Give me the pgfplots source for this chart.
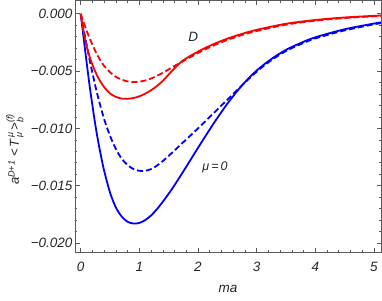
\documentclass[border=0pt]{standalone}
\usepackage{pgfplots}
\pgfplotsset{compat=1.18}
\usepackage{amsmath}
\usepackage{fontspec}
\setmainfont{Liberation Sans}
\definecolor{frame}{RGB}{90,90,90}
\newcommand{\ti}[1]{\text{\itshape #1}}
\begin{document}
\begin{tikzpicture}
\begin{axis}[
  scale only axis,
  width=306pt, height=252pt,
  xmin=-0.097, xmax=5.12,
  ymin=-0.02083, ymax=0.00116,
  axis line style={frame, line width=0.8pt},
  tick style={frame, line width=0.6pt},
  tick align=inside,
  major tick length=4.5pt,
  minor tick length=2.5pt,
  xtick={0,1,2,3,4,5},
  xticklabels={0,1,2,3,4,5},
  minor x tick num=4,
  ytick={-0.02,-0.015,-0.01,-0.005,0},
  yticklabels={−0.020,−0.015,−0.010,−0.005,0.000},
  minor y tick num=4,
  scaled y ticks=false,
  ticklabel style={font=\fontsize{13.5}{15}\selectfont\itshape, text=black!85},
  xticklabel style={yshift=-6pt},
  yticklabel style={xshift=1pt},
  xlabel={\itshape ma},
  xlabel style={font=\fontsize{13.5}{15}\selectfont, at={(axis description cs:0.5,-0.143)}, anchor=center, text=black!85},
  ylabel={$\ti{a}^{\ti{D+1}}\;\ti{<}\,\ti{T}^{\,\ti{μ}}_{\,\ti{μ}}\,\ti{>}^{\ti{(f)}}_{\ti{b}}$},
  ylabel style={font=\fontsize{13}{15}\selectfont, at={(axis description cs:-0.196,0.41)}, anchor=center, rotate=0, text=black!85},
  clip=true,
]
\coordinate (sw) at (rel axis cs:0,0);
\coordinate (ne) at (rel axis cs:1,1);
% blue solid
\addplot[blue, line width=1.8pt, smooth] table[y expr=\thisrowno{1}/1000] {
0 0
0.05 -2.1
0.1 -4.2
0.15 -6.2
0.2 -8.0
0.25 -9.7
0.3 -11.2
0.35 -12.5
0.4 -13.7
0.5 -15.6
0.6 -16.9
0.7 -17.7
0.8 -18.15
0.9 -18.3
1.0 -18.25
1.1 -18.0
1.2 -17.6
1.3 -17.05
1.4 -16.4
1.5 -15.7
1.6 -14.95
1.75 -13.75
2.0 -11.7
2.25 -9.7
2.5 -7.85
2.75 -6.25
3.0 -4.95
3.25 -3.95
3.5 -3.15
3.75 -2.55
4.0 -2.05
4.5 -1.35
5.0 -0.85
5.12 -0.75
};
% blue dashed
\addplot[blue, line width=1.8pt, smooth, dash pattern=on 6pt off 3pt] table[y expr=\thisrowno{1}/1000] {
0 0
0.05 -1.35
0.1 -2.65
0.15 -3.95
0.2 -5.15
0.25 -6.3
0.3 -7.35
0.4 -9.2
0.5 -10.65
0.6 -11.8
0.7 -12.65
0.8 -13.2
0.9 -13.55
1.0 -13.7
1.1 -13.7
1.2 -13.55
1.3 -13.25
1.4 -12.85
1.5 -12.4
1.75 -11.2
2.0 -10.0
2.25 -8.75
2.5 -7.5
2.75 -6.25
3.0 -5.05
3.25 -4.05
3.5 -3.25
3.75 -2.65
4.0 -2.15
4.5 -1.45
5.0 -0.92
5.12 -0.82
};
% red solid
\addplot[red, line width=1.8pt, smooth] table[y expr=\thisrowno{1}/1000] {
0 0
0.05 -1.6
0.1 -2.8
0.15 -3.7
0.2 -4.45
0.25 -5.05
0.3 -5.6
0.4 -6.4
0.5 -6.95
0.6 -7.25
0.7 -7.4
0.8 -7.42
0.9 -7.35
1.0 -7.2
1.1 -6.97
1.2 -6.67
1.3 -6.3
1.4 -5.85
1.5 -5.3
1.6 -4.75
1.75 -4.05
2.0 -3.3
2.25 -2.68
2.5 -2.17
2.75 -1.75
3.0 -1.4
3.5 -0.87
4.0 -0.54
4.5 -0.32
5.0 -0.18
5.12 -0.15
};
% red dashed
\addplot[red, line width=1.8pt, smooth, dash pattern=on 6pt off 3pt] table[y expr=\thisrowno{1}/1000] {
0 0
0.05 -0.75
0.1 -1.45
0.15 -2.1
0.2 -2.7
0.25 -3.25
0.3 -3.75
0.4 -4.55
0.5 -5.1
0.6 -5.5
0.7 -5.75
0.8 -5.9
0.9 -5.95
1.0 -5.92
1.1 -5.82
1.2 -5.65
1.3 -5.42
1.4 -5.15
1.5 -4.85
1.6 -4.55
1.75 -4.12
2.0 -3.42
2.25 -2.8
2.5 -2.28
2.75 -1.85
3.0 -1.5
3.5 -0.95
4.0 -0.6
4.5 -0.37
5.0 -0.22
5.12 -0.19
};
\node[font=\fontsize{13.5}{15}\selectfont\itshape, text=black!85] at (axis cs:1.92,-0.0020) {D};
\node[font=\fontsize{12.5}{15}\selectfont\itshape, text=black!85] at (axis cs:2.29,-0.0134) {μ\,=\,0};
\end{axis}
\pgfresetboundingbox
\path ([shift={(-75pt,-47.5pt)}]sw) rectangle ([shift={(1pt,0.5pt)}]ne);
\end{tikzpicture}
\end{document}
